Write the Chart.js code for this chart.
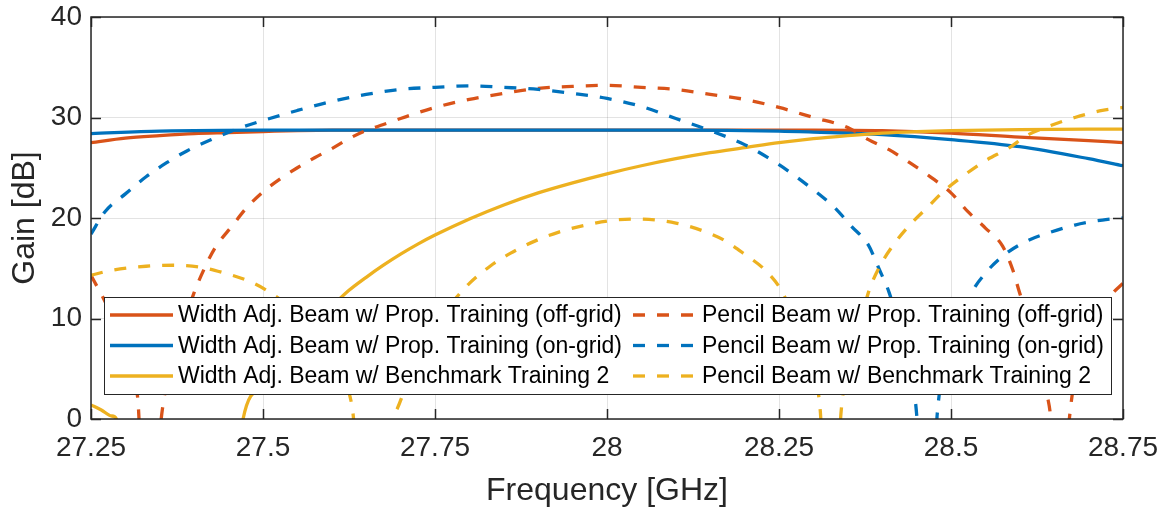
<!DOCTYPE html>
<html>
<head>
<meta charset="utf-8">
<script src="https://cdn.jsdelivr.net/npm/chart.js@4.4.1/dist/chart.umd.min.js"></script>
<style>
  html, body { margin: 0; padding: 0; background: #ffffff; }
  #wrap { width: 1167px; height: 513px; position: relative; }
</style>
</head>
<body>
<div id="wrap"><canvas id="c" width="1167" height="513"></canvas></div>
<script>
// ---------- data ----------
const xTickValues = [27.25, 27.5, 27.75, 28, 28.25, 28.5, 28.75];
const xTickLabels = ["27.25", "27.5", "27.75", "28", "28.25", "28.5", "28.75"];
const yTickValues = [0, 10, 20, 30, 40];
const yTickLabels = ["0", "10", "20", "30", "40"];

const seriesLabels = [
  "Width Adj. Beam w/ Prop. Training (off-grid)",
  "Width Adj. Beam w/ Prop. Training (on-grid)",
  "Width Adj. Beam w/ Benchmark Training 2",
  "Pencil Beam w/ Prop. Training (off-grid)",
  "Pencil Beam w/ Prop. Training (on-grid)",
  "Pencil Beam w/ Benchmark Training 2"
];

// Width adjusted beam, proposed training, off-grid
const freqWAoff = [27.25, 27.3, 27.35, 27.4, 27.45, 27.5, 27.55, 27.6, 27.8, 28.0, 28.2, 28.3, 28.4, 28.5, 28.6, 28.7, 28.75];
const gainWAoff = [27.5, 27.95, 28.2, 28.4, 28.5, 28.6, 28.7, 28.75, 28.75, 28.75, 28.75, 28.75, 28.7, 28.45, 28.05, 27.7, 27.5];

// Width adjusted beam, proposed training, on-grid
const freqWAon = [27.25, 27.35, 27.5, 27.8, 28.1, 28.25, 28.3, 28.4, 28.5, 28.6, 28.7, 28.75];
const gainWAon = [28.4, 28.65, 28.75, 28.75, 28.75, 28.65, 28.55, 28.3, 27.8, 27.1, 25.9, 25.2];

// Width adjusted beam, benchmark training 2
const freqWAbm = [27.25, 27.265, 27.28, 27.287, 27.29, 27.465, 27.471, 27.5, 27.525, 27.55, 27.575, 27.6, 27.625, 27.65, 27.675, 27.7, 27.725, 27.75, 27.8, 27.85, 27.9, 27.95, 28.0, 28.05, 28.1, 28.15, 28.2, 28.25, 28.3, 28.35, 28.4, 28.45, 28.5, 28.6, 28.75];
const gainWAbm = [1.4, 0.9, 0.3, 0, -6, -6, 0, 3.2, 5.5, 7.6, 9.5, 11.2, 12.8, 14.1, 15.3, 16.4, 17.4, 18.3, 19.9, 21.3, 22.5, 23.5, 24.4, 25.2, 25.9, 26.5, 27.0, 27.5, 27.9, 28.2, 28.45, 28.6, 28.7, 28.8, 28.85];

// Pencil beam, proposed training, off-grid
const freqPBoff = [27.25, 27.275, 27.3, 27.318, 27.325, 27.345, 27.352, 27.37, 27.385, 27.4, 27.415, 27.43, 27.455, 27.476, 27.5, 27.525, 27.55, 27.575, 27.6, 27.625, 27.65, 27.675, 27.7, 27.75, 27.8, 27.85, 27.9, 27.95, 28.0, 28.05, 28.1, 28.15, 28.2, 28.25, 28.3, 28.35, 28.38, 28.41, 28.44, 28.47, 28.5, 28.525, 28.55, 28.575, 28.59, 28.6, 28.62, 28.64, 28.645, 28.65, 28.665, 28.672, 28.68, 28.7, 28.72, 28.735, 28.75];
const gainPBoff = [14.3, 11.0, 6.5, 2.0, -6, -6, 0, 6.0, 9.5, 12.6, 15.0, 17.0, 19.2, 21.0, 22.6, 23.9, 25.0, 26.0, 26.9, 27.9, 28.7, 29.3, 29.9, 31.0, 31.8, 32.4, 32.9, 33.1, 33.2, 33.0, 32.8, 32.3, 31.8, 31.0, 30.0, 29.0, 27.8, 26.8, 25.5, 24.1, 22.5, 20.6, 19.0, 17.2, 14.8, 12.5, 8.5, 2.3, 0, -6, -6, 0, 4.0, 8.5, 11.0, 12.5, 13.5];

// Pencil beam, proposed training, on-grid
const freqPBon = [27.25, 27.27, 27.3, 27.33, 27.36, 27.39, 27.425, 27.46, 27.5, 27.55, 27.6, 27.65, 27.7, 27.75, 27.8, 27.85, 27.9, 27.95, 28.0, 28.05, 28.1, 28.15, 28.2, 28.25, 28.3, 28.33, 28.355, 28.38, 28.395, 28.41, 28.425, 28.44, 28.45, 28.455, 28.475, 28.48, 28.5, 28.53, 28.55, 28.575, 28.61, 28.645, 28.68, 28.72, 28.75];
const gainPBon = [18.4, 20.6, 22.4, 24.1, 25.5, 26.7, 27.8, 28.8, 29.7, 30.7, 31.6, 32.3, 32.8, 33.0, 33.15, 33.0, 32.8, 32.4, 31.9, 31.1, 29.9, 28.7, 27.3, 25.3, 22.8, 21.1, 19.2, 17.3, 15.0, 12.6, 9.0, 4.5, 0.5, -6, -6, 0.5, 6.5, 12.5, 14.5, 16.2, 17.7, 18.6, 19.3, 19.8, 20.0];

// Pencil beam, benchmark training 2
const freqPBbm = [27.25, 27.28, 27.33, 27.37, 27.41, 27.44, 27.48, 27.51, 27.55, 27.59, 27.615, 27.63, 27.64, 27.685, 27.69, 27.695, 27.72, 27.75, 27.78, 27.8, 27.83, 27.86, 27.895, 27.93, 27.97, 28.0, 28.04, 28.07, 28.1, 28.14, 28.17, 28.2, 28.23, 28.255, 28.28, 28.31, 28.315, 28.335, 28.34, 28.355, 28.37, 28.38, 28.395, 28.415, 28.44, 28.465, 28.49, 28.52, 28.55, 28.585, 28.61, 28.645, 28.68, 28.72, 28.75];
const gainPBbm = [14.3, 14.8, 15.2, 15.3, 15.1, 14.6, 13.7, 12.6, 10.5, 7.2, 4.0, 1.0, -6, -6, 0, 1.0, 5.5, 9.3, 12.0, 13.5, 15.2, 16.5, 17.7, 18.6, 19.3, 19.7, 19.9, 19.8, 19.5, 18.7, 17.8, 16.4, 14.8, 12.6, 8.5, 0.8, -6, -6, 0.5, 6.0, 10.0, 12.6, 15.0, 17.2, 19.3, 21.0, 22.7, 24.3, 25.7, 27.0, 28.2, 29.2, 30.0, 30.7, 31.0];

// ---------- styling ----------
const FONT = "'Liberation Sans', Arial, Helvetica, sans-serif";
const C_ORANGE = "#D95319", C_BLUE = "#0072BD", C_YELLOW = "#EDB120";
const AX = "#262626";
const DASH = [12, 12];
const LW = 3.3;

function pts(xs, ys) { return xs.map((x, i) => ({ x: x, y: ys[i] })); }

function ds(label, xs, ys, color, dashed, order) {
  return {
    label: label,
    data: pts(xs, ys),
    borderColor: color,
    backgroundColor: color,
    borderWidth: LW,
    borderDash: dashed ? DASH : [],
    pointRadius: 0,
    fill: false,
    cubicInterpolationMode: 'monotone',
    clip: 0,
    order: order
  };
}

const datasets = [
  ds(seriesLabels[0], freqWAoff, gainWAoff, C_ORANGE, false, 6),
  ds(seriesLabels[1], freqWAon, gainWAon, C_BLUE, false, 5),
  ds(seriesLabels[2], freqWAbm, gainWAbm, C_YELLOW, false, 4),
  ds(seriesLabels[3], freqPBoff, gainPBoff, C_ORANGE, true, 3),
  ds(seriesLabels[4], freqPBon, gainPBon, C_BLUE, true, 2),
  ds(seriesLabels[5], freqPBbm, gainPBbm, C_YELLOW, true, 1)
];

// box, inward ticks, legend
const matlabAxes = {
  id: 'matlabAxes',
  afterDatasetsDraw(chart) {
    const ctx = chart.ctx, a = chart.chartArea;
    const xs = chart.scales.x, ys = chart.scales.y;
    const TL = 10;
    ctx.save();
    ctx.strokeStyle = AX;
    ctx.lineWidth = 1.5;
    ctx.setLineDash([]);
    ctx.beginPath();
    xTickValues.forEach(v => {
      const px = Math.round(xs.getPixelForValue(v)) + 0.5;
      ctx.moveTo(px, a.bottom); ctx.lineTo(px, a.bottom - TL);
      ctx.moveTo(px, a.top); ctx.lineTo(px, a.top + TL);
    });
    yTickValues.forEach(v => {
      const py = Math.round(ys.getPixelForValue(v)) + 0.5;
      ctx.moveTo(a.left, py); ctx.lineTo(a.left + TL, py);
      ctx.moveTo(a.right, py); ctx.lineTo(a.right - TL, py);
    });
    ctx.stroke();
    ctx.lineWidth = 1.5;
    ctx.strokeRect(a.left, a.top, a.right - a.left, a.bottom - a.top);

    // legend
    const lx0 = a.left + 13, lx1 = a.right - 12;
    const ly0 = a.top + 280, ly1 = a.bottom - 25;
    ctx.fillStyle = '#ffffff';
    ctx.fillRect(lx0, ly0, lx1 - lx0, ly1 - ly0);
    ctx.strokeStyle = AX;
    ctx.lineWidth = 1;
    ctx.strokeRect(lx0 + 0.5, ly0 + 0.5, lx1 - lx0, ly1 - ly0);
    const rows = [ly0 + 18, ly0 + 48.5, ly0 + 79];
    const cols = [{ s: lx0 + 6, e: lx0 + 69, t: lx0 + 74 }, { s: a.left + 542, e: a.left + 604, t: a.left + 611 }];
    ctx.font = '23px ' + FONT;
    ctx.textBaseline = 'middle';
    ctx.textAlign = 'left';
    for (let i = 0; i < 6; i++) {
      const c = cols[i < 3 ? 0 : 1], r = rows[i % 3];
      const d = chart.data.datasets[i];
      ctx.strokeStyle = d.borderColor;
      ctx.lineWidth = LW;
      ctx.setLineDash(d.borderDash);
      ctx.beginPath(); ctx.moveTo(c.s, r); ctx.lineTo(c.e, r); ctx.stroke();
      ctx.setLineDash([]);
      ctx.fillStyle = '#000000';
      ctx.fillText(d.label, c.t, r + 1);
    }
    ctx.restore();
  }
};

new Chart(document.getElementById('c'), {
  type: 'line',
  data: { datasets: datasets },
  plugins: [matlabAxes],
  options: {
    responsive: false,
    animation: false,
    events: [],
    layout: { padding: { top: 17, right: 44, left: 0, bottom: 0 } },
    plugins: { legend: { display: false }, tooltip: { enabled: false } },
    scales: {
      x: {
        type: 'linear',
        min: 27.25, max: 28.75,
        afterBuildTicks(s) { s.ticks = xTickValues.map(v => ({ value: v })); },
        afterFit(s) { s.height = 94; s.paddingLeft = 0; s.paddingRight = 0; },
        grid: { color: 'rgba(38,38,38,0.13)', lineWidth: 1, drawTicks: false },
        border: { display: false },
        ticks: {
          autoSkip: false, maxRotation: 0, padding: 12,
          color: AX, font: { family: FONT, size: 28 },
          callback: (v) => xTickLabels[xTickValues.indexOf(v)]
        },
        title: { display: true, text: 'Frequency [GHz]', color: AX, font: { family: FONT, size: 32 }, padding: { top: 0, bottom: 3 } }
      },
      y: {
        type: 'linear',
        min: 0, max: 40,
        afterBuildTicks(s) { s.ticks = yTickValues.map(v => ({ value: v })); },
        afterFit(s) { s.width = 91; s.paddingTop = 0; s.paddingBottom = 0; },
        grid: { color: 'rgba(38,38,38,0.13)', lineWidth: 1, drawTicks: false },
        border: { display: false },
        ticks: {
          padding: 9,
          color: AX, font: { family: FONT, size: 28 },
          callback: (v) => yTickLabels[yTickValues.indexOf(v)]
        },
        title: { display: true, text: 'Gain [dB]', color: AX, font: { family: FONT, size: 32 }, padding: { top: 6, bottom: 0 } }
      }
    }
  }
});
</script>
</body>
</html>
